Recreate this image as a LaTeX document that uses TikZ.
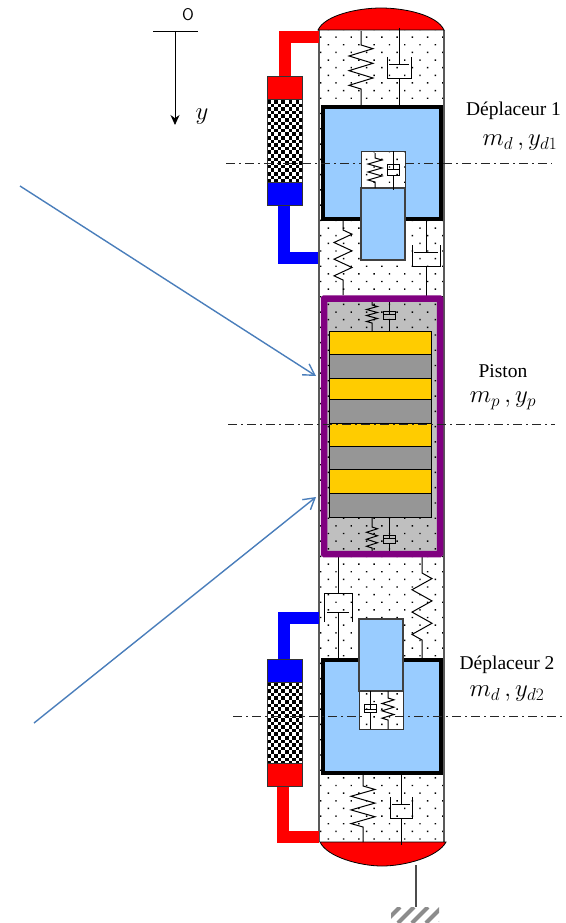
\documentclass[tikz,border=0pt]{standalone}
\usepackage{fontspec}
\setmainfont{Liberation Serif}
\usepackage{xcolor}
\usetikzlibrary{arrows.meta,patterns.meta}
\definecolor{HotRed}{HTML}{FF0000}
\definecolor{ColdBlue}{HTML}{0000FF}
\definecolor{MassBlue}{HTML}{99CCFF}
\definecolor{PistonPurple}{HTML}{800080}
\definecolor{MagnetYellow}{HTML}{FFCC00}
\definecolor{MagnetGray}{HTML}{969696}
\definecolor{GasGray}{HTML}{BFBFBF}
\definecolor{ArrowBlue}{HTML}{4A7EBB}
% spring: x, top, coil start, coil end, bottom, half width
\newcommand{\springv}[6]{
	\draw[mech] (#1,#2) -- (#1,#3)
	\foreach \k in {0,...,5} {
		-- ({#1+(1-2*mod(\k,2))*#6},{#3+(\k+.5)*(#4-#3)/6})
	} -- (#1,#4) -- (#1,#5);
}
% damper with the cup open on top: x, top, plate, cup top, cup bottom, bottom, half width
\newcommand{\damperv}[7]{
	\draw[mech] (#1,#2) -- (#1,#3) ({#1-#7+2},#3) -- ({#1+#7-2},#3);
	\draw[mech] ({#1-#7},#4) -- ({#1-#7},#5) -- ({#1+#7},#5) -- ({#1+#7},#4);
	\draw[mech] (#1,#5) -- (#1,#6);
}
% small closed damper: x, top, box top, plate, box bottom, bottom, half width
\newcommand{\dampersmall}[7]{
	\draw[mech] (#1,#2) -- (#1,#4) (#1,#5) -- (#1,#6);
	\draw[mech] ({#1-#7},#3) rectangle ({#1+#7},#5);
	\draw[mech] ({#1-#7},#4) -- ({#1+#7},#4);
}
% regenerator matrix: left, top, right, bottom
\newcommand{\checkerbox}[4]{
	\begin{scope}
		\clip (#1,#2) rectangle (#3,#4);
		\fill[white] (#1,#2) rectangle (#3,#4);
		\foreach \i in {0,...,10} {
			\foreach \j in {0,...,23} {
				\pgfmathparse{int(mod(\i+\j,2))}
				\ifnum\pgfmathresult=0
					\fill[black] ({#1+\i*3.6},{#2+\j*3.6}) rectangle ++(3.6,3.6);
				\fi
			}
		}
	\end{scope}
	\draw[edge] (#1,#2) rectangle (#3,#4);
}
\begin{document}
\begin{tikzpicture}[
		x=1pt,y=-1pt,
		mech/.style={draw=black,line width=1pt},
		edge/.style={draw=black!80,line width=1pt},
		dotted gas/.style={pattern={Dots[distance=10.8pt,angle=45,radius=1pt]},pattern color=black},
		pipe/.style={line width=12pt,line join=miter},
		mass/.style={draw=black,line width=3.5pt,fill=MassBlue},
		rod/.style={draw=black!75,line width=1.2pt,fill=MassBlue},
		axisline/.style={draw=black!85,line width=.9pt,dash pattern=on 9pt off 4pt on 2pt off 4pt},
		flux/.style={ArrowBlue,line width=1.4pt,-{Straight Barb[length=11pt,width=13pt,line width=1.4pt]}},
		lab/.style={font=\fontsize{19.5}{23}\selectfont,inner sep=0pt},
		sym/.style={font=\fontsize{25}{30}\selectfont,inner sep=0pt}
	]
	\useasboundingbox (0,0) rectangle (565,923);
	% cylinder
	\fill[white] (319,30) rectangle (444,842);
	\fill[dotted gas] (319,30) rectangle (444,842);
	\draw[draw=black!65,line width=1.6pt] (319,30) -- (319,842) (444,30) -- (444,842);
	\draw[black,line width=.8pt,fill=HotRed] (318,30) .. controls (325,15) and (358,8) .. (381,8) .. controls (405,8) and (437,15) .. (444,30) -- cycle;
	\draw[black,line width=.8pt,fill=HotRed] (320,842) .. controls (327,857) and (360,866) .. (382,866) .. controls (405,866) and (438,857) .. (446,842) -- cycle;
	% pipes
	\draw[pipe,HotRed] (285,77) -- (285,37) -- (319,37);
	\draw[pipe,ColdBlue] (284,205) -- (284,258) -- (318,258);
	\draw[pipe,ColdBlue] (284,659) -- (284,618) -- (319,618);
	\draw[pipe,HotRed] (283,786) -- (283,837) -- (319,837);
	% regenerators
	\checkerbox{267}{100}{302}{182}
	\draw[edge,fill=HotRed] (267,77) rectangle (302,100);
	\draw[edge,fill=ColdBlue] (267,182) rectangle (302,205);
	\checkerbox{267}{682}{302}{763}
	\draw[edge,fill=ColdBlue] (267,659) rectangle (302,682);
	\draw[edge,fill=HotRed] (267,763) rectangle (302,786);
	% springs and dampers outside the masses
	\springv{361}{31}{45}{89}{105}{12}
	\damperv{399}{28}{65}{57}{79}{107}{12}
	\springv{343}{218}{230}{280}{295}{9}
	\damperv{426}{218}{252}{245}{266}{297}{14}
	\springv{363}{773}{786}{827}{842}{12}
	\damperv{401}{770}{804}{797}{818}{845}{11}
	\springv{422}{557}{573}{640}{659}{10}
	\draw[mech] (338,557) -- (338,593) (324,622) -- (324,593) -- (352,593) -- (352,622);
	\draw[mech] (327,612) -- (349,612) (338,612) -- (338,659);
	% upper displacer
	\draw[mass] (323,107) rectangle (441,219);
	\fill[white] (361,151) rectangle (405,188);
	\fill[dotted gas] (361,151) rectangle (405,188);
	\draw[rod] (361,188) rectangle (405,260);
	\draw[edge] (361,188) -- (361,151) -- (405,151) -- (405,188);
	\springv{375}{153}{158}{182}{188}{7}
	\dampersmall{393}{151}{164}{169}{175}{190}{6}
	% lower displacer
	\draw[mass] (323,660) rectangle (441,773);
	\fill[white] (359,691) rectangle (403,729);
	\fill[dotted gas] (359,691) rectangle (403,729);
	\draw[rod] (359,619) rectangle (403,691);
	\draw[edge] (359,691) -- (359,729) -- (403,729) -- (403,691);
	\dampersmall{370}{691}{704}{709}{712}{729}{6}
	\springv{388}{691}{698}{720}{729}{6}
	% piston
	\fill[GasGray] (324,298) rectangle (440,554);
	\fill[dotted gas] (324,298) rectangle (440,554);
	\springv{372}{299}{305}{323}{331}{5.5}
	\dampersmall{389.5}{298}{311}{314}{319.5}{331}{6}
	\springv{372}{517}{527}{548}{555}{5.5}
	\dampersmall{389.5}{519}{535}{538}{543}{556}{6}
	\foreach \ya/\yb/\magnet in {331/354.5/MagnetYellow,354.5/378/MagnetGray,378/399/MagnetYellow,399/423/MagnetGray,423/446/MagnetYellow,446/469.5/MagnetGray,469.5/493/MagnetYellow,493/517.5/MagnetGray} {
		\draw[black,line width=1pt,fill=\magnet] (329.5,\ya) rectangle (431.5,\yb);
	}
	\draw[PistonPurple,line width=6.5pt,rounded corners=.5pt] (324,298.5) rectangle (440,554);
	% center lines
	\draw[axisline] (226,163) -- (361,163) (405,163) -- (552,163);
	\draw[axisline] (228,424) -- (555,424);
	\draw[axisline] (233,716) -- (365,716) (395,716) -- (562,716);
	% frame axis
	\coordinate (O) at (175,31);
	\coordinate (ytip) at (175,125);
	\draw[black,line width=.9pt] (153,31) -- (198,31);
	\draw[black,line width=.9pt,-{Stealth[length=10pt,width=9pt]}] (O) -- (ytip);
	\node[inner sep=0pt,font=\fontsize{17}{20}\sffamily\selectfont] (originlab) at (188,15) {O};
	\node[sym,font=\fontsize{23}{28}\selectfont] (ylab) at (202,117) {$y$};
	% field arrows
	\coordinate (fluxa) at (20,186);
	\coordinate (fluxb) at (316,376);
	\coordinate (fluxc) at (34,723);
	\coordinate (fluxd) at (316,497);
	\draw[flux] (fluxa) -- (fluxb);
	\draw[flux] (fluxc) -- (fluxd);
	% ground
	\coordinate (rodtop) at (416,865);
	\coordinate (rodend) at (416,907);
	\draw[draw=black!70,line width=1.4pt] (rodtop) -- (rodend);
	\begin{scope}
		\clip (391,907) rectangle (439,923);
		\foreach \k in {0,...,4} {
			\draw[black!45,line width=4pt] ({384+\k*14},923) -- ({400+\k*14},907);
		}
	\end{scope}
	% labels
	\node[lab] (dep1) at (513.5,111) {Déplaceur 1};
	\node[sym] (dep1sym) at (520,143) {$m_d\,,y_{d1}$};
	\node[lab] (pistonlab) at (503,371) {Piston};
	\node[sym] (pistonsym) at (503,401) {$m_p\,,y_p$};
	\node[lab] (dep2) at (507,665) {Déplaceur 2};
	\node[sym] (dep2sym) at (507,694) {$m_d\,,y_{d2}$};
\end{tikzpicture}
\end{document}
